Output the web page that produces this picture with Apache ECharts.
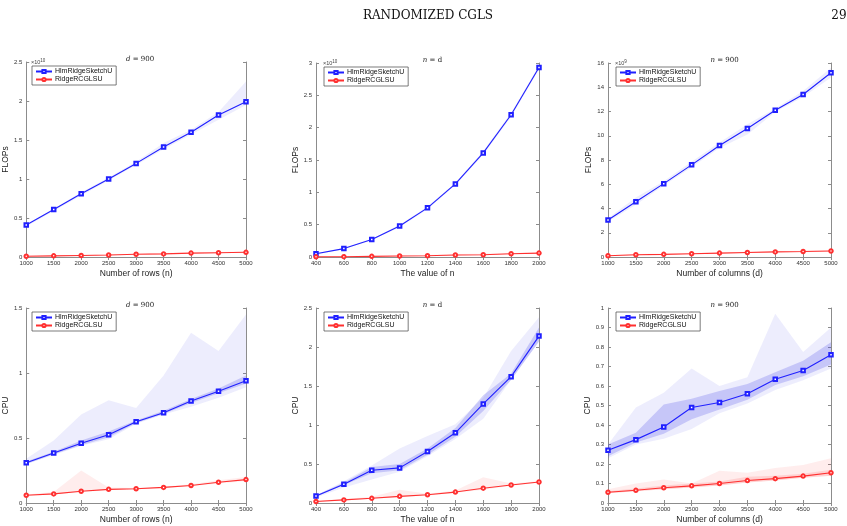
<!DOCTYPE html>
<html>
<head>
<meta charset="utf-8">
<script src="https://cdn.jsdelivr.net/npm/echarts@6/dist/echarts.min.js"></script>
<style>
  html, body { margin: 0; padding: 0; background: #fff; }
  #main { width: 847px; height: 526px; }
</style>
</head>
<body>
<div id="main"></div>
<script>
var chartDom = document.getElementById('main');
var myChart = echarts.init(chartDom);

// x values
var rowsX = [1000, 1500, 2000, 2500, 3000, 3500, 4000, 4500, 5000];
var nX = [400, 600, 800, 1000, 1200, 1400, 1600, 1800, 2000];
var colsX = [1000, 1500, 2000, 2500, 3000, 3500, 4000, 4500, 5000];

// FLOPs, d = 900 (x 1e10)
var flopsRowsBlue = [0.41, 0.61, 0.81, 1.0, 1.2, 1.41, 1.6, 1.82, 1.99];
var flopsRowsBlueUp = [0.42, 0.62, 0.83, 1.02, 1.22, 1.46, 1.63, 1.86, 2.25];
var flopsRowsBlueLo = [0.39, 0.59, 0.79, 0.98, 1.18, 1.38, 1.57, 1.76, 1.95];
var flopsRowsRed = [0.01, 0.015, 0.02, 0.025, 0.035, 0.04, 0.05, 0.055, 0.06];
var flopsRowsRedUp = [0.015, 0.02, 0.027, 0.033, 0.043, 0.05, 0.058, 0.065, 0.07];
var flopsRowsRedLo = [0.007, 0.011, 0.016, 0.02, 0.029, 0.034, 0.043, 0.048, 0.053];

// FLOPs, n = d (x 1e10)
var flopsNBlue = [0.05, 0.13, 0.27, 0.48, 0.76, 1.13, 1.61, 2.2, 2.93];
var flopsNBlueUp = [0.06, 0.14, 0.28, 0.5, 0.78, 1.15, 1.64, 2.23, 2.96];
var flopsNBlueLo = [0.04, 0.12, 0.26, 0.46, 0.74, 1.11, 1.58, 2.17, 2.9];
var flopsNRed = [0.002, 0.005, 0.01, 0.015, 0.02, 0.03, 0.035, 0.05, 0.06];
var flopsNRedUp = [0.006, 0.01, 0.016, 0.022, 0.03, 0.045, 0.05, 0.06, 0.07];
var flopsNRedLo = [0.0, 0.002, 0.006, 0.01, 0.014, 0.02, 0.027, 0.042, 0.052];

// FLOPs, n = 900 (x 1e9)
var flopsColsBlue = [3.05, 4.55, 6.05, 7.6, 9.2, 10.6, 12.1, 13.4, 15.2];
var flopsColsBlueUp = [3.2, 4.9, 6.25, 7.85, 9.45, 10.95, 12.25, 13.7, 15.6];
var flopsColsBlueLo = [2.9, 4.3, 5.9, 7.4, 9.0, 10.1, 11.95, 13.2, 14.8];
var flopsColsRed = [0.1, 0.18, 0.22, 0.27, 0.32, 0.37, 0.42, 0.45, 0.5];
var flopsColsRedUp = [0.15, 0.25, 0.28, 0.33, 0.38, 0.43, 0.48, 0.52, 0.58];
var flopsColsRedLo = [0.06, 0.12, 0.17, 0.22, 0.27, 0.32, 0.37, 0.4, 0.44];

// CPU, d = 900
var cpuRowsBlue = [0.31, 0.385, 0.46, 0.525, 0.625, 0.695, 0.785, 0.86, 0.94];
var cpuRowsBlueUp = [0.34, 0.48, 0.68, 0.79, 0.73, 0.98, 1.31, 1.17, 1.45];
var cpuRowsBlueLo = [0.3, 0.37, 0.44, 0.49, 0.61, 0.68, 0.74, 0.81, 0.89];
var cpuRowsBlueInUp = [0.32, 0.395, 0.48, 0.55, 0.635, 0.71, 0.8, 0.88, 0.98];
var cpuRowsBlueInLo = [0.3, 0.375, 0.445, 0.505, 0.615, 0.685, 0.77, 0.845, 0.92];
var cpuRowsRed = [0.06, 0.07, 0.09, 0.105, 0.11, 0.12, 0.135, 0.16, 0.18];
var cpuRowsRedUp = [0.065, 0.085, 0.25, 0.12, 0.115, 0.125, 0.145, 0.175, 0.2];
var cpuRowsRedLo = [0.055, 0.065, 0.085, 0.1, 0.105, 0.115, 0.13, 0.15, 0.17];

// CPU, n = d
var cpuNBlue = [0.09, 0.24, 0.42, 0.45, 0.66, 0.9, 1.27, 1.62, 2.14];
var cpuNBlueUp = [0.1, 0.28, 0.48, 0.7, 0.86, 1.01, 1.35, 1.95, 2.38];
var cpuNBlueLo = [0.07, 0.2, 0.3, 0.4, 0.6, 0.82, 1.08, 1.58, 2.07];
var cpuNBlueInUp = [0.1, 0.26, 0.46, 0.5, 0.7, 0.96, 1.38, 1.66, 2.25];
var cpuNBlueInLo = [0.08, 0.23, 0.38, 0.42, 0.62, 0.85, 1.18, 1.58, 2.07];
var cpuNRed = [0.02, 0.04, 0.06, 0.085, 0.105, 0.14, 0.19, 0.23, 0.27];
var cpuNRedUp = [0.03, 0.05, 0.08, 0.17, 0.12, 0.16, 0.33, 0.25, 0.28];
var cpuNRedLo = [0.015, 0.035, 0.055, 0.075, 0.1, 0.13, 0.17, 0.22, 0.26];

// CPU, n = 900
var cpuColsBlue = [0.27, 0.325, 0.39, 0.49, 0.515, 0.56, 0.635, 0.68, 0.76];
var cpuColsBlueUp = [0.3, 0.49, 0.565, 0.69, 0.6, 0.645, 0.97, 0.775, 0.9];
var cpuColsBlueLo = [0.23, 0.3, 0.33, 0.38, 0.46, 0.51, 0.58, 0.63, 0.69];
var cpuColsBlueInUp = [0.3, 0.36, 0.505, 0.535, 0.575, 0.61, 0.67, 0.73, 0.825];
var cpuColsBlueInLo = [0.24, 0.31, 0.355, 0.43, 0.48, 0.53, 0.605, 0.65, 0.71];
var cpuColsRed = [0.055, 0.065, 0.078, 0.088, 0.1, 0.115, 0.125, 0.138, 0.155];
var cpuColsRedUp = [0.07, 0.1, 0.12, 0.1, 0.165, 0.155, 0.18, 0.195, 0.23];
var cpuColsRedLo = [0.05, 0.06, 0.07, 0.08, 0.09, 0.105, 0.115, 0.13, 0.14];
var cpuColsRedInUp = [0.06, 0.075, 0.09, 0.1, 0.11, 0.135, 0.14, 0.15, 0.17];
var cpuColsRedInLo = [0.05, 0.06, 0.07, 0.08, 0.09, 0.105, 0.115, 0.13, 0.14];

var names = ['HlmRidgeSketchU', 'RidgeRCGLSU'];
var blue = '#2020ff';
var red = '#ff3030';
var blueLight = 'rgba(60,60,230,0.09)';
var blueMid = 'rgba(60,60,230,0.22)';
var redLight = 'rgba(255,60,60,0.09)';
var redMid = 'rgba(255,60,60,0.16)';

var panels = [
  { left: 24, top: 62, width: 222, height: 195, xs: rowsX, xmin: 1000, xmax: 5000, xint: 500, ymax: 2.5, yint: 0.5,
    xname: 'Number of rows (n)', yname: 'FLOPs', title: 'd', titleRest: ' = 900', exp: '10',
    blue: flopsRowsBlue, red: flopsRowsRed,
    bands: [[flopsRowsBlueUp, flopsRowsBlueLo, blueLight], [flopsRowsRedUp, flopsRowsRedLo, redLight]] },
  { left: 316, top: 63, width: 223, height: 194, xs: nX, xmin: 400, xmax: 2000, xint: 200, ymax: 3, yint: 0.5,
    xname: 'The value of n', yname: 'FLOPs', title: 'n', titleRest: ' = d', exp: '10',
    blue: flopsNBlue, red: flopsNRed,
    bands: [[flopsNBlueUp, flopsNBlueLo, blueLight], [flopsNRedUp, flopsNRedLo, redLight]] },
  { left: 608, top: 63, width: 223, height: 194, xs: colsX, xmin: 1000, xmax: 5000, xint: 500, ymax: 16, yint: 2,
    xname: 'Number of columns (d)', yname: 'FLOPs', title: 'n', titleRest: ' = 900', exp: '9',
    blue: flopsColsBlue, red: flopsColsRed,
    bands: [[flopsColsBlueUp, flopsColsBlueLo, blueLight], [flopsColsRedUp, flopsColsRedLo, redLight]] },
  { left: 24, top: 308, width: 222, height: 195, xs: rowsX, xmin: 1000, xmax: 5000, xint: 500, ymax: 1.5, yint: 0.5,
    xname: 'Number of rows (n)', yname: 'CPU', title: 'd', titleRest: ' = 900',
    blue: cpuRowsBlue, red: cpuRowsRed,
    bands: [[cpuRowsBlueUp, cpuRowsBlueLo, blueLight], [cpuRowsBlueInUp, cpuRowsBlueInLo, blueMid],
            [cpuRowsRedUp, cpuRowsRedLo, redLight]] },
  { left: 316, top: 308, width: 223, height: 195, xs: nX, xmin: 400, xmax: 2000, xint: 200, ymax: 2.5, yint: 0.5,
    xname: 'The value of n', yname: 'CPU', title: 'n', titleRest: ' = d',
    blue: cpuNBlue, red: cpuNRed,
    bands: [[cpuNBlueUp, cpuNBlueLo, blueLight], [cpuNBlueInUp, cpuNBlueInLo, blueMid],
            [cpuNRedUp, cpuNRedLo, redLight]] },
  { left: 608, top: 308, width: 223, height: 195, xs: colsX, xmin: 1000, xmax: 5000, xint: 500, ymax: 1, yint: 0.1,
    xname: 'Number of columns (d)', yname: 'CPU', title: 'n', titleRest: ' = 900',
    blue: cpuColsBlue, red: cpuColsRed,
    bands: [[cpuColsBlueUp, cpuColsBlueLo, blueLight], [cpuColsBlueInUp, cpuColsBlueInLo, blueMid],
            [cpuColsRedUp, cpuColsRedLo, redLight], [cpuColsRedInUp, cpuColsRedInLo, redMid]] }
];

var axisColor = '#8c8c8c';
var labelFont = { fontSize: 6, color: '#333', fontFamily: 'Liberation Sans' };
function plainNum(v) { return String(Math.round(v * 1000) / 1000); }

var grids = [], xAxes = [], yAxes = [], series = [], legends = [], titles = [];

panels.forEach(function (p, gi) {
  grids.push({ left: p.left, top: p.top, width: p.width, height: p.height, show: false });

  // bottom/left axes with labels
  xAxes.push({
    type: 'value', gridIndex: gi, min: p.xmin, max: p.xmax, interval: p.xint,
    name: p.xname, nameLocation: 'middle', nameGap: 12,
    nameTextStyle: { fontSize: 8.5, color: '#222', fontFamily: 'Liberation Sans' },
    axisLine: { lineStyle: { color: axisColor, width: 1 } },
    axisTick: { inside: true, length: 3, lineStyle: { color: axisColor } },
    axisLabel: Object.assign({ margin: 3, formatter: plainNum }, labelFont),
    splitLine: { show: false }
  });
  yAxes.push({
    type: 'value', gridIndex: gi, min: 0, max: p.ymax, interval: p.yint,
    name: p.yname, nameLocation: 'middle', nameGap: 13,
    nameTextStyle: { fontSize: 8.5, color: '#222', fontFamily: 'Liberation Sans' },
    axisLine: { show: true, lineStyle: { color: axisColor, width: 1 } },
    axisTick: { show: true, inside: true, length: 3, lineStyle: { color: axisColor } },
    axisLabel: Object.assign({ margin: 4, formatter: plainNum }, labelFont),
    splitLine: { show: false }
  });
});
// top/right box axes
panels.forEach(function (p, gi) {
  xAxes.push({
    type: 'value', gridIndex: gi, position: 'top', min: p.xmin, max: p.xmax, interval: p.xint,
    axisLine: { lineStyle: { color: axisColor, width: 1 } },
    axisTick: { inside: true, length: 3, lineStyle: { color: axisColor } },
    axisLabel: { show: false }, splitLine: { show: false }
  });
  yAxes.push({
    type: 'value', gridIndex: gi, position: 'right', min: 0, max: p.ymax, interval: p.yint,
    axisLine: { show: true, lineStyle: { color: axisColor, width: 1 } },
    axisTick: { show: true, inside: true, length: 3, lineStyle: { color: axisColor } },
    axisLabel: { show: false }, splitLine: { show: false }
  });
});

function bandSeries(gi, xs, up, lo, color) {
  return {
    type: 'custom', xAxisIndex: gi, yAxisIndex: gi, silent: true, z: 1,
    data: [[xs[0], up[0]]],
    renderItem: function (params, api) {
      var pts = [];
      for (var i = 0; i < xs.length; i++) pts.push(api.coord([xs[i], up[i]]));
      for (var j = xs.length - 1; j >= 0; j--) pts.push(api.coord([xs[j], lo[j]]));
      return { type: 'polygon', shape: { points: pts }, style: { fill: color } };
    }
  };
}

function pairs(xs, ys) {
  return xs.map(function (x, i) { return [x, ys[i]]; });
}

panels.forEach(function (p, gi) {
  p.bands.forEach(function (b) {
    series.push(bandSeries(gi, p.xs, b[0], b[1], b[2]));
  });
  series.push({
    name: names[0], type: 'line', xAxisIndex: gi, yAxisIndex: gi, z: 3,
    data: pairs(p.xs, p.blue), symbol: 'emptyRect', symbolSize: 3.5,
    lineStyle: { color: blue, width: 1.1 }, itemStyle: { color: blue, borderWidth: 1 }
  });
  series.push({
    name: names[1], type: 'line', xAxisIndex: gi, yAxisIndex: gi, z: 3,
    data: pairs(p.xs, p.red), symbol: 'emptyCircle', symbolSize: 3.5,
    lineStyle: { color: red, width: 1.1 }, itemStyle: { color: red, borderWidth: 1 }
  });

  legends.push({
    data: names, left: p.left + 8, top: p.top + 4, orient: 'vertical',
    itemWidth: 16, itemHeight: 4, itemGap: 1, padding: [2, 4, 2, 3],
    borderColor: '#444', borderWidth: 0.7, backgroundColor: '#fff',
    textStyle: { fontSize: 7, color: '#111', fontFamily: 'Liberation Sans', padding: [0, 0, 0, -2] },
    selectedMode: false
  });

  titles.push({
    text: '{i|' + p.title + '}{r|' + p.titleRest + '}',
    left: p.left + p.width / 2, top: p.top - 11, textAlign: 'center',
    textStyle: {
      fontWeight: 'normal',
      rich: {
        i: { fontFamily: 'DejaVu Serif', fontStyle: 'italic', fontWeight: 'normal', fontSize: 7, color: '#222' },
        r: { fontFamily: 'DejaVu Serif', fontWeight: 'normal', fontSize: 7, color: '#222' }
      }
    }
  });

  if (p.exp) {
    titles.push({
      text: '{a|\u00d710}{b|' + p.exp + '}',
      left: p.left + 2, top: p.top - 9,
      textStyle: {
        fontWeight: 'normal',
        rich: {
          a: { fontSize: 5.5, fontWeight: 'normal', color: '#444', fontFamily: 'Liberation Sans' },
          b: { fontSize: 4.5, fontWeight: 'normal', color: '#444', fontFamily: 'Liberation Sans', verticalAlign: 'top', padding: [0, 0, 4, 0] }
        }
      }
    });
  }
});

titles.push({
  text: 'RANDOMIZED CGLS', left: 423, top: 5, textAlign: 'center',
  textStyle: { fontFamily: 'DejaVu Serif', fontSize: 12, fontWeight: 'normal', color: '#111' }
});
titles.push({
  text: '29', left: 834, top: 5, textAlign: 'center',
  textStyle: { fontFamily: 'DejaVu Serif', fontSize: 12, fontWeight: 'normal', color: '#111' }
});

var option = {
  backgroundColor: '#fff',
  animation: false,
  title: titles,
  legend: legends,
  grid: grids,
  xAxis: xAxes,
  yAxis: yAxes,
  series: series
};

option && myChart.setOption(option);
</script>
</body>
</html>
